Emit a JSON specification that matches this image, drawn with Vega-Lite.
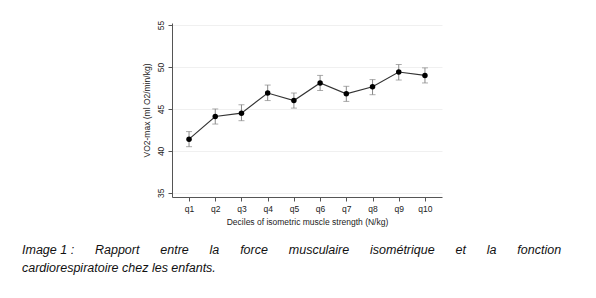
{
  "$schema": "https://vega.github.io/schema/vega-lite/v6.json",
  "autosize": "none",
  "width": 270,
  "height": 174,
  "padding": {"left": 172, "top": 23, "right": 154, "bottom": 101},
  "background": "white",
  "config": {
    "font": "Liberation Sans",
    "view": {"stroke": null},
    "axis": {"labelFont": "Liberation Sans", "titleFont": "Liberation Sans", "labelColor": "#222", "titleColor": "#222", "titleFontWeight": "normal", "domainColor": "#555", "tickColor": "#555"}
  },
  "title": {
    "text": ["Image 1 :\u00a0\u00a0\u00a0\u00a0\u00a0 Rapport\u00a0\u00a0\u00a0\u00a0\u00a0 entre\u00a0\u00a0\u00a0\u00a0\u00a0 la\u00a0\u00a0\u00a0\u00a0\u00a0 force\u00a0\u00a0\u00a0\u00a0\u00a0 musculaire\u00a0\u00a0\u00a0\u00a0\u00a0 isométrique\u00a0\u00a0\u00a0\u00a0\u00a0 et\u00a0\u00a0\u00a0\u00a0\u00a0 la\u00a0\u00a0\u00a0\u00a0\u00a0 fonction", "cardiorespiratoire chez les enfants."],
    "orient": "bottom",
    "anchor": "start",
    "frame": "group",
    "dx": -150,
    "offset": 18,
    "fontSize": 12.5,
    "fontStyle": "italic",
    "fontWeight": "normal",
    "font": "Liberation Sans",
    "color": "#111",
    "lineHeight": 18,
    "baseline": "top"
  },
  "data": {"values": [
    {"q": "q1", "v": 41.4, "lo": 40.5, "hi": 42.3},
    {"q": "q2", "v": 44.1, "lo": 43.2, "hi": 45.0},
    {"q": "q3", "v": 44.5, "lo": 43.6, "hi": 45.5},
    {"q": "q4", "v": 46.9, "lo": 46.0, "hi": 47.85},
    {"q": "q5", "v": 46.0, "lo": 45.1, "hi": 46.9},
    {"q": "q6", "v": 48.1, "lo": 47.2, "hi": 49.0},
    {"q": "q7", "v": 46.8, "lo": 45.9, "hi": 47.7},
    {"q": "q8", "v": 47.65, "lo": 46.7, "hi": 48.5},
    {"q": "q9", "v": 49.4, "lo": 48.45, "hi": 50.3},
    {"q": "q10", "v": 49.0, "lo": 48.1, "hi": 49.9}
  ]},
  "encoding": {
    "x": {"field": "q", "type": "ordinal", "sort": null,
      "scale": {"type": "point", "padding": 0.65},
      "axis": {"title": "Deciles of isometric muscle strength (N/kg)", "labelAngle": 0, "labelFontSize": 8.5, "titleFontSize": 8.5, "tickSize": 4, "labelPadding": 3, "titlePadding": 5, "grid": false}
    }
  },
  "layer": [
    {
      "mark": {"type": "errorbar", "ticks": {"size": 6, "color": "#888", "strokeWidth": 1}, "rule": {"color": "#888", "strokeWidth": 1}},
      "encoding": {
        "y": {"field": "lo", "type": "quantitative",
          "scale": {"domain": [34.5, 55.25], "nice": false, "zero": false},
          "axis": {"title": "VO2-max (ml O2/min/kg)", "values": [35, 40, 45, 50, 55], "labelAngle": -90, "labelAlign": "center", "labelBaseline": "bottom", "labelFontSize": 8.5, "titleFontSize": 8.5, "tickSize": 4, "labelPadding": 3, "titlePadding": 5, "grid": true, "gridColor": "#f0f0f0", "gridWidth": 1}
        },
        "y2": {"field": "hi"}
      }
    },
    {
      "mark": {"type": "line", "color": "#333", "strokeWidth": 1.1},
      "encoding": {"y": {"field": "v", "type": "quantitative"}}
    },
    {
      "mark": {"type": "point", "filled": true, "color": "#000", "opacity": 1, "size": 30},
      "encoding": {"y": {"field": "v", "type": "quantitative"}}
    }
  ]
}
